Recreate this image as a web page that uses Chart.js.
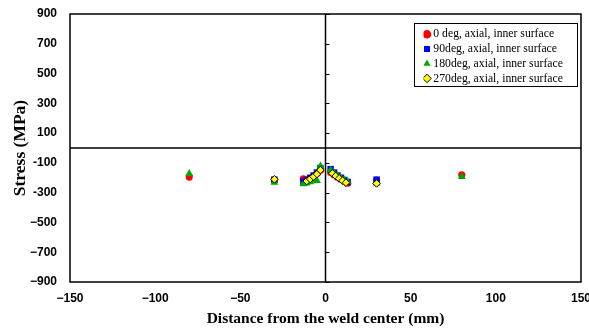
<!DOCTYPE html>
<html>
<head>
<meta charset="utf-8">
<script src="https://cdn.jsdelivr.net/npm/chart.js@4"></script>
<style>
  body { margin: 0; background: #fff; }
  #wrap { width: 589px; height: 328px; }
</style>
</head>
<body>
<div id="wrap"><canvas id="stressChart" width="589" height="328"></canvas></div>
<script>
// Measured residual stress vs. distance from weld center
const seriesNames = [
    '0 deg, axial, inner surface',
    '90deg, axial, inner surface',
    '180deg, axial, inner surface',
    '270deg, axial, inner surface'
];

const dist0 = [-80, -30, -13, -11, -9, -7, -5, -3, 3, 5, 7, 9, 11, 13, 30, 80];
const stress0 = [-195, -215, -208, -215, -205, -190, -172, -150, -165, -180, -196, -210, -222, -236, -215, -180];

const dist90 = [-30, -13, -11, -9, -7, -5, -3, 3, 5, 7, 9, 11, 13, 30];
const stress90 = [-213, -225, -215, -200, -185, -165, -135, -142, -165, -185, -200, -215, -228, -213];

const dist180 = [-80, -30, -13, -11, -9, -7, -5, -3, 3, 5, 7, 9, 11, 13, 30, 80];
const stress180 = [-172, -232, -242, -236, -228, -222, -220, -122, -148, -168, -185, -200, -214, -226, -236, -192];

const dist270 = [-30, -11, -9, -7, -5, -3, 4, 6, 8, 10, 12, 30];
const stress270 = [-210, -222, -208, -192, -175, -148, -170, -188, -204, -219, -233, -238];

const xTickLabels = ['\u2212150', '\u2212100', '\u221250', '0', '50', '100', '150'];
const yTickValues = [-900, -700, -500, -300, -100, 100, 300, 500, 700, 900];
const yTickLabels = ['\u2212900', '\u2212700', '\u2212500', '-300', '-100', '100', '300', '500', '700', '900'];

function toPoints(xs, ys) {
    return xs.map((x, i) => ({ x, y: ys[i] }));
}

// box, zero axes and the little ticks on the vertical zero line
const crossAxes = {
    id: 'crossAxes',
    beforeDatasetsDraw(chart) {
        const { ctx, chartArea: a, scales: { x, y } } = chart;
        const x0 = x.getPixelForValue(0);
        const y0 = y.getPixelForValue(0);
        ctx.save();
        ctx.strokeStyle = '#000';
        ctx.lineWidth = 1.5;
        ctx.strokeRect(a.left, a.top, a.width, a.height);
        ctx.beginPath();
        ctx.moveTo(a.left, y0);
        ctx.lineTo(a.right, y0);
        ctx.moveTo(x0, a.top);
        ctx.lineTo(x0, a.bottom);
        ctx.stroke();
        ctx.lineWidth = 1;
        ctx.beginPath();
        y.ticks.forEach(t => {
            const py = Math.round(y.getPixelForValue(t.value)) + 0.5;
            ctx.moveTo(x0, py);
            ctx.lineTo(x0 + 4, py);
        });
        ctx.stroke();
        ctx.restore();
    }
};

// move the legend to the top right corner of the plot and frame it
const legendBox = {
    id: 'legendBox',
    afterLayout(chart) {
        const lg = chart.legend;
        const a = chart.chartArea;
        lg.left = a.right - 157.5;
        lg.right = lg.left + lg.width;
        lg.top = a.top + 11.5;
    },
    afterDraw(chart) {
        const { ctx, chartArea: a } = chart;
        ctx.save();
        ctx.strokeStyle = '#000';
        ctx.lineWidth = 1;
        ctx.strokeRect(Math.round(a.right - 167) + 0.5, Math.round(a.top + 8.5) + 0.5, 163, 63);
        ctx.restore();
    }
};

const tickFont = { family: '"Liberation Sans", Arial, sans-serif', size: 12, weight: 'bold' };
const serif = '"Liberation Serif", "Times New Roman", serif';

new Chart(document.getElementById('stressChart'), {
    type: 'scatter',
    data: {
        datasets: [
            {
                label: seriesNames[0],
                data: toPoints(dist0, stress0),
                pointStyle: 'circle',
                pointRadius: 3.6,
                backgroundColor: '#ff0000',
                borderColor: '#ff0000',
                borderWidth: 0,
                order: 4
            },
            {
                label: seriesNames[1],
                data: toPoints(dist90, stress90),
                pointStyle: 'rect',
                pointRadius: 4.6,
                backgroundColor: '#0000ff',
                borderColor: '#0000ff',
                borderWidth: 0,
                order: 3
            },
            {
                label: seriesNames[2],
                data: toPoints(dist180, stress180),
                pointStyle: 'triangle',
                pointRadius: 4.6,
                backgroundColor: '#00a800',
                borderColor: '#00a800',
                borderWidth: 0,
                order: 2
            },
            {
                label: seriesNames[3],
                data: toPoints(dist270, stress270),
                pointStyle: 'rectRot',
                pointRadius: 3.8,
                backgroundColor: '#ffff00',
                borderColor: '#000000',
                borderWidth: 1,
                order: 1
            }
        ]
    },
    options: {
        responsive: false,
        animation: false,
        devicePixelRatio: 1,
        layout: { padding: { left: 0, right: 8, top: 14, bottom: 0 } },
        plugins: {
            tooltip: { enabled: false },
            legend: {
                position: 'chartArea',
                align: 'start',
                labels: {
                    usePointStyle: true,
                    boxWidth: 1,
                    boxHeight: 6,
                    padding: 3,
                    color: '#000',
                    font: { family: serif, size: 11.7 },
                    sort: (a, b) => a.datasetIndex - b.datasetIndex
                }
            }
        },
        scales: {
            x: {
                type: 'linear',
                min: -150,
                max: 150,
                grid: { display: false, drawTicks: false },
                border: { display: false },
                ticks: {
                    stepSize: 50,
                    padding: 9,
                    color: '#000',
                    font: tickFont,
                    maxRotation: 0,
                    callback: (v) => xTickLabels[(v + 150) / 50]
                },
                title: {
                    display: true,
                    text: 'Distance from the weld center (mm)',
                    color: '#000',
                    font: { family: serif, size: 15.5, weight: 'bold' },
                    padding: { top: 0, bottom: 0 }
                },
                afterFit: (s) => {
                    s.height = 46;
                    s.paddingLeft = 0;
                    s.paddingRight = 0;
                }
            },
            y: {
                type: 'linear',
                min: -900,
                max: 900,
                grid: { display: false, drawTicks: false },
                border: { display: false },
                afterBuildTicks: (s) => {
                    s.ticks = yTickValues.map(v => ({ value: v }));
                },
                ticks: {
                    padding: 13,
                    color: '#000',
                    font: tickFont,
                    callback: (v) => yTickLabels[yTickValues.indexOf(v)]
                },
                title: {
                    display: true,
                    text: 'Stress (MPa)',
                    color: '#000',
                    font: { family: serif, size: 17.5, weight: 'bold' },
                    padding: { top: 9.5, bottom: 0 }
                },
                afterFit: (s) => {
                    s.width = 70;
                    s.paddingTop = 0;
                    s.paddingBottom = 0;
                }
            }
        }
    },
    plugins: [crossAxes, legendBox]
});
</script>
</body>
</html>
